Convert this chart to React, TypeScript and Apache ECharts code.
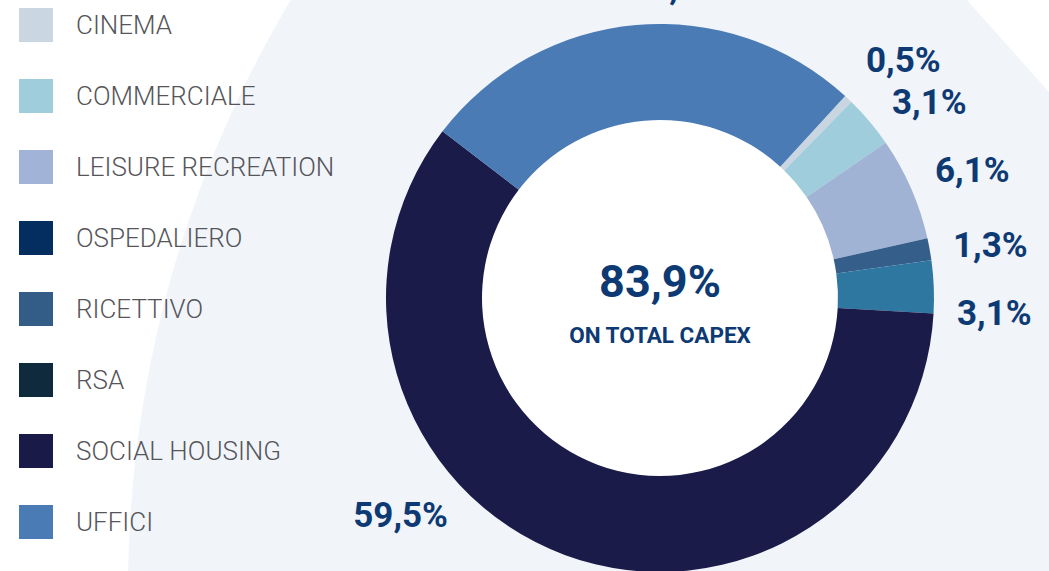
import React, { useEffect, useRef } from "react";
import * as echarts from "echarts";

const CATEGORIES = [
  "CINEMA",
  "COMMERCIALE",
  "LEISURE RECREATION",
  "OSPEDALIERO",
  "RICETTIVO",
  "RSA",
  "SOCIAL HOUSING",
  "UFFICI",
];
const SHARES = [0.5, 3.1, 6.1, 0, 1.3, 3.1, 59.5, 26.4];
const SLICE_COLORS = [
  "#c9d6e2",
  "#9fcddb",
  "#a0b3d5",
  "#042d60",
  "#355f8a",
  "#2e77a1",
  "#1b1b4a",
  "#4a7bb4",
];
const LEGEND_COLORS = [
  "#cad7e3",
  "#9fcddb",
  "#a1b3d6",
  "#042d60",
  "#335d87",
  "#0f2a3d",
  "#1a1a48",
  "#4a7bb5",
];
const CENTER_VALUE = 83.9;
const CENTER_CAPTION = "ON TOTAL CAPEX";

// label placement (style, not data): [x, y, align]
const LABEL_POS: Record<number, [number, number, string]> = {
  0: [866, 60, "left"],
  1: [892, 102, "left"],
  2: [935, 170, "left"],
  4: [953, 245, "left"],
  5: [957, 313, "left"],
  6: [448, 515, "right"],
  7: [629, -13, "left"],
};

const LABEL_COLOR = "#0e3a74";
const fmt = (v: number) => v.toFixed(1).replace(".", ",") + "%";

export default function App() {
  const ref = useRef<HTMLDivElement>(null);
  useEffect(() => {
    if (!ref.current) return;
    const chart = echarts.init(ref.current, null, { renderer: "svg" });
    const data = CATEGORIES.map((name, i) => ({
      name,
      value: SHARES[i],
      itemStyle: { color: SLICE_COLORS[i] },
      label: SHARES[i] === 0 ? { show: false } : undefined,
    }));
    chart.setOption({
      animation: false,
      backgroundColor: "#ffffff",
      graphic: [
        {
          type: "circle",
          z: -10,
          silent: true,
          shape: { cx: 1275, cy: 589, r: 1147 },
          style: { fill: "#f1f4f9" },
        },
        {
          type: "polygon",
          z: -9,
          silent: true,
          shape: { points: [[967, 0], [1049, 0], [1049, 92]] },
          style: { fill: "#ffffff" },
        },
      ],
      legend: {
        orient: "vertical",
        left: 19,
        top: 8,
        padding: 0,
        itemWidth: 34,
        itemHeight: 34,
        itemGap: 37,
        icon: "rect",
        selectedMode: false,
        data: CATEGORIES.map((name, i) => ({
          name,
          itemStyle: { color: LEGEND_COLORS[i] },
        })),
        textStyle: {
          fontFamily: "Roboto",
          fontWeight: 300,
          fontSize: 26,
          color: "#55555a",
          padding: [0, 0, 0, 18],
        },
      },
      series: [
        {
          type: "pie",
          silent: true,
          center: [660, 298],
          radius: [0, 178],
          data: [{ value: 1, name: "centre", itemStyle: { color: "#ffffff" } }],
          label: {
            show: true,
            position: "center",
            formatter: () => `{a|${fmt(CENTER_VALUE)}}\n{b|${CENTER_CAPTION}}`,
            rich: {
              a: {
                fontFamily: "Roboto",
                fontWeight: "bold",
                fontSize: 45,
                lineHeight: 74,
                color: LABEL_COLOR,
              },
              b: {
                fontFamily: "Roboto",
                fontWeight: "bold",
                fontSize: 22.5,
                lineHeight: 34,
                color: LABEL_COLOR,
              },
            },
          },
          labelLine: { show: false },
          tooltip: { show: false },
        },
        {
          type: "pie",
          center: [660, 298],
          radius: [178, 274],
          startAngle: 47.5,
          clockwise: true,
          silent: true,
          avoidLabelOverlap: false,
          data,
          label: {
            show: true,
            position: "outside",
            formatter: (p: any) => fmt(p.value),
            fontFamily: "Roboto",
            fontWeight: "bold",
            fontSize: 35,
            color: LABEL_COLOR,
          },
          labelLine: { show: false, length: 14, length2: 0 },
          labelLayout: (p: any) => {
            const pos = LABEL_POS[p.dataIndex];
            if (!pos) return {};
            return { x: pos[0], y: pos[1], align: pos[2], verticalAlign: "middle" };
          },
        },
      ],
    });
    return () => chart.dispose();
  }, []);
  return (
    <div style={{ position: "fixed", left: 0, top: 0, width: 1049, height: 571, overflow: "hidden" }}>
      <div ref={ref} style={{ width: 1049, height: 571 }} />
    </div>
  );
}
